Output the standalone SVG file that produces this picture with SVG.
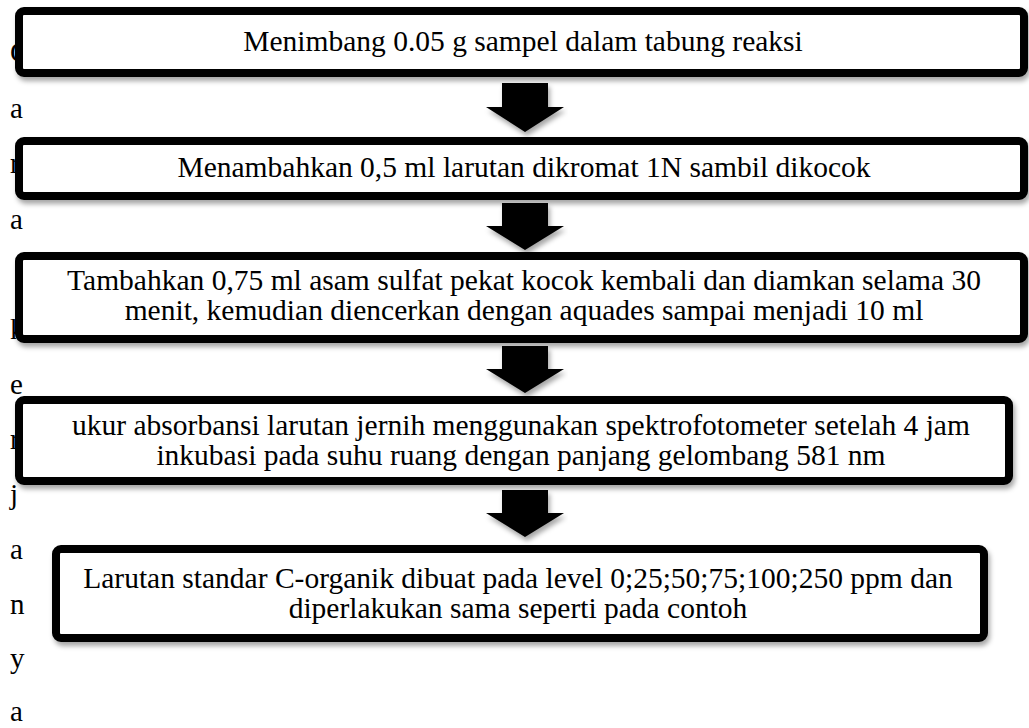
<svg xmlns="http://www.w3.org/2000/svg" width="1029" height="728" viewBox="0 0 1029 728">
<defs>
<filter id="sh" x="-5%" y="-20%" width="110%" height="150%">
<feDropShadow dx="2" dy="4" stdDeviation="2.5" flood-color="#000" flood-opacity="0.35"/>
</filter>
<style>
.t{font-family:"Liberation Serif","Times New Roman",serif;font-size:29.5px;fill:#000;text-anchor:middle}
.s{font-family:"Liberation Serif","Times New Roman",serif;font-size:29px;fill:#000}
.box{fill:#fff;stroke:#000;stroke-width:8;filter:url(#sh)}
.arr{fill:#000;filter:url(#sh)}
</style>
</defs>
<rect width="1029" height="728" fill="#fff"/>
<g id="side">
<text class="s" x="10" y="62">C</text>
<text class="s" x="10" y="118">a</text>
<text class="s" x="10" y="173">r</text>
<text class="s" x="10" y="229">a</text>
<text class="s" x="10" y="339">k</text>
<text class="s" x="10" y="394">e</text>
<text class="s" x="10" y="449">r</text>
<text class="s" x="10" y="504">j</text>
<text class="s" x="10" y="559">a</text>
<text class="s" x="10" y="614">n</text>
<text class="s" x="10" y="668">y</text>
<text class="s" x="10" y="721">a</text>
</g>
<g id="connectors">
<path class="arr" d="M502,83 H548 V107 H564 L525,132 L486,107 H502 Z"/>
<path class="arr" d="M502,203 H548 V226 H564 L525,250 L486,226 H502 Z"/>
<path class="arr" d="M502,346 H548 V369 H564 L525,393 L486,369 H502 Z"/>
<path class="arr" d="M502,490 H548 V513 H564 L525,537 L486,513 H502 Z"/>
</g>
<g id="n1">
<rect class="box" x="19" y="11" width="1005" height="62" rx="5"/>
<text class="t" x="523" y="51">Menimbang 0.05 g sampel dalam tabung reaksi</text>
</g>
<g id="n2">
<rect class="box" x="19" y="141" width="1005" height="55" rx="5"/>
<text class="t" x="524" y="177">Menambahkan 0,5 ml larutan dikromat 1N sambil dikocok</text>
</g>
<g id="n3">
<rect class="box" x="19" y="256" width="1005" height="83" rx="5"/>
<text class="t" x="524" y="290">Tambahkan 0,75 ml asam sulfat pekat kocok kembali dan diamkan selama 30</text>
<text class="t" x="524" y="320">menit, kemudian diencerkan dengan aquades sampai menjadi 10 ml</text>
</g>
<g id="n4">
<rect class="box" x="19" y="400" width="990" height="81" rx="5"/>
<text class="t" x="521" y="435">ukur absorbansi larutan jernih menggunakan spektrofotometer setelah 4 jam</text>
<text class="t" x="521" y="465">inkubasi pada suhu ruang dengan panjang gelombang 581 nm</text>
</g>
<g id="n5">
<rect class="box" x="56" y="549" width="928" height="89" rx="5"/>
<text class="t" x="518" y="588">Larutan standar C-organik dibuat pada level 0;25;50;75;100;250 ppm dan</text>
<text class="t" x="518" y="618">diperlakukan sama seperti pada contoh</text>
</g>
</svg>
